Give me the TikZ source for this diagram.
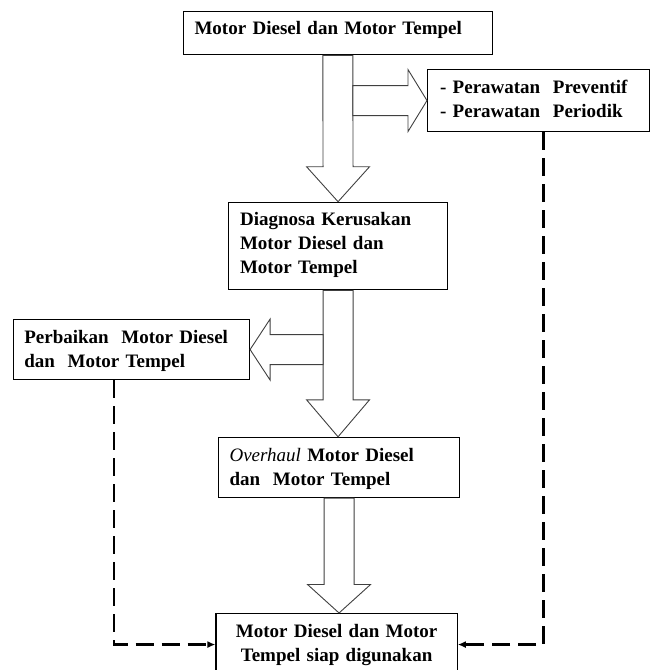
\documentclass[tikz,border=0pt]{standalone}
\usepackage{fontspec}
\setmainfont{Liberation Serif}
\usetikzlibrary{calc,arrows.meta}
\tikzset{
  kotak/.style={draw,line width=1.1pt,anchor=north west,inner ysep=0pt,align=left,font=\fontsize{19}{24}\selectfont\bfseries},
  panah/.style={draw=black!75,fill=white,line width=0.9pt,line join=miter},
  putus/.style={line width=2.3pt,dash pattern=on 18pt off 8pt,-{Latex[length=8pt,width=7pt]}}
}
\begin{document}
\begin{tikzpicture}[x=1pt,y=-1pt]
	\useasboundingbox (0,0) rectangle (653,670);
	% kotak-kotak
	\node[kotak,inner xsep=11.5pt,text width=286.5pt,text height=23.3pt,text depth=20.3pt] (mesin) at (182.5,10.7) {Motor Diesel dan Motor Tempel};
	\node[kotak,inner xsep=12.5pt,text width=197pt,text height=23.7pt,text depth=38.3pt] (rawat) at (427,69) {- Perawatan~~Preventif\\- Perawatan~~Periodik};
	\node[kotak,inner xsep=11.5pt,text width=196pt,text height=23.6pt,text depth=64pt] (diag) at (228,201.7) {Diagnosa Kerusakan\\Motor Diesel dan\\Motor Tempel};
	\node[kotak,inner xsep=10.75pt,text width=214.5pt,text height=23.7pt,text depth=36.3pt] (baik) at (13,319) {Perbaikan~~Motor Diesel\\dan~~Motor Tempel};
	\node[kotak,inner xsep=11pt,text width=219pt,text height=23.9pt,text depth=36.3pt] (over) at (218,436.8) {{\normalfont\itshape Overhaul} Motor Diesel\\dan~~Motor Tempel};
	\node[kotak,align=center,inner xsep=11pt,text width=219.3pt,text height=24pt,text depth=38pt] (siap) at (215.4,613) {Motor Diesel dan Motor\\Tempel siap digunakan};
	% panah besar
	\draw[panah] ($(mesin.south)+(-15,0)$) -- ($(diag.north)+(-15,-35)$) -- ($(diag.north)+(-31.5,-35)$) -- (diag.north) -- ($(diag.north)+(31.5,-35)$) -- ($(diag.north)+(15,-35)$) -- ($(mesin.south)+(15,0)$) -- cycle;
	\draw[panah] ($(rawat.west -| mesin.south)+(15,-15)$) -- ($(rawat.west)+(-19,-15)$) -- ($(rawat.west)+(-19,-31)$) -- (rawat.west) -- ($(rawat.west)+(-19,31)$) -- ($(rawat.west)+(-19,15)$) -- ($(rawat.west -| mesin.south)+(15,15)$) -- cycle;
	\draw[panah] ($(diag.south)+(-15,0)$) -- ($(over.north -| diag.south)+(-15,-37)$) -- ($(over.north -| diag.south)+(-31.5,-37)$) -- (over.north -| diag.south) -- ($(over.north -| diag.south)+(31.5,-37)$) -- ($(over.north -| diag.south)+(15,-37)$) -- ($(diag.south)+(15,0)$) -- cycle;
	\draw[panah] ($(baik.east -| diag.south)+(-15,-15)$) -- ($(baik.east)+(20,-15)$) -- ($(baik.east)+(20,-30.5)$) -- (baik.east) -- ($(baik.east)+(20,30.5)$) -- ($(baik.east)+(20,15)$) -- ($(baik.east -| diag.south)+(-15,15)$) -- cycle;
	\draw[panah] ($(over.south)+(-15,0)$) -- ($(siap.north -| over.south)+(-15,-28.5)$) -- ($(siap.north -| over.south)+(-31.5,-28.5)$) -- (siap.north -| over.south) -- ($(siap.north -| over.south)+(31.5,-28.5)$) -- ($(siap.north -| over.south)+(15,-28.5)$) -- ($(over.south)+(15,0)$) -- cycle;
	% garis putus-putus
	\draw[putus] ($(baik.south west)+(101,0)$) |- (siap.west);
	\draw[putus] ($(rawat.south)+(5,0)$) |- (siap.east);
\end{tikzpicture}
\end{document}
